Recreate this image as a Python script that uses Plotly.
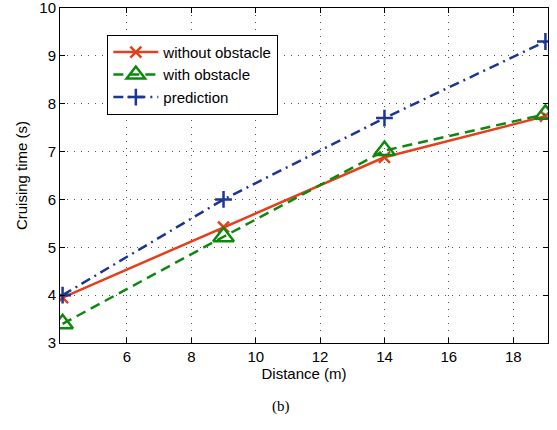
import plotly.graph_objects as go

distance = [4, 9, 14, 19]
without_obstacle = [3.95, 5.42, 6.88, 7.74]
with_obstacle = [3.40, 5.22, 7.02, 7.78]
prediction = [4.00, 6.00, 7.70, 9.30]

x_ticks = [6, 8, 10, 12, 14, 16, 18]
y_ticks = [3, 4, 5, 6, 7, 8, 9, 10]

RED = "#e2411d"
GREEN = "#0e880e"
BLUE = "#1c3694"
FONT = "Liberation Sans, Arial, Helvetica"

fig = go.Figure()
fig.add_trace(go.Scatter(
    x=distance, y=without_obstacle, name="without obstacle", mode="lines+markers",
    line=dict(color=RED, width=2.5),
    marker=dict(symbol="x-thin-open", size=11, line=dict(color=RED, width=2.5)),
))
fig.add_trace(go.Scatter(
    x=distance, y=with_obstacle, name="with obstacle", mode="lines+markers",
    line=dict(color=GREEN, width=2.5, dash="10px,6px"),
    marker=dict(symbol="triangle-up-open", size=18, line=dict(color=GREEN, width=2.5)),
))
fig.add_trace(go.Scatter(
    x=distance, y=prediction, name="prediction", mode="lines+markers",
    line=dict(color=BLUE, width=2.5, dash="10px,5px,2px,5px"),
    marker=dict(symbol="cross-thin-open", size=12, line=dict(color=BLUE, width=2.5)),
))

axis_common = dict(
    showline=True, linecolor="black", linewidth=1, mirror="ticks",
    ticks="inside", ticklen=5, tickcolor="black",
    showgrid=True, gridcolor="#555555", griddash="1px,6px", gridwidth=1,
    zeroline=False, automargin=False, ticklabeloverflow="allow",
    tickfont=dict(family=FONT, size=15, color="black"),
)

fig.update_layout(
    width=557, height=430,
    margin=dict(l=60, r=9, t=8, b=87),
    plot_bgcolor="white", paper_bgcolor="white",
    font=dict(family=FONT, size=15, color="black"),
    xaxis=dict(range=[3.92, 19.08], tickvals=x_ticks,
               title=dict(text="Distance (m)", font=dict(size=15), standoff=2), **axis_common),
    yaxis=dict(range=[3, 10], tickvals=y_ticks,
               title=dict(text="Cruising time (s)", font=dict(size=15), standoff=8), **axis_common),
    legend=dict(x=0.097, y=0.92, xanchor="left", yanchor="top",
                bordercolor="black", borderwidth=1, bgcolor="white",
                font=dict(family=FONT, size=15), tracegroupgap=0, itemwidth=45),
    showlegend=True,
    annotations=[dict(text="(b)", x=0.452, y=-0.222, xref="paper", yref="paper",
                      showarrow=False,
                      font=dict(family="Liberation Serif, Times New Roman", size=15))],
)

fig.write_html("out.html", config={"displayModeBar": False},
               post_script="document.body.style.margin='0';")
